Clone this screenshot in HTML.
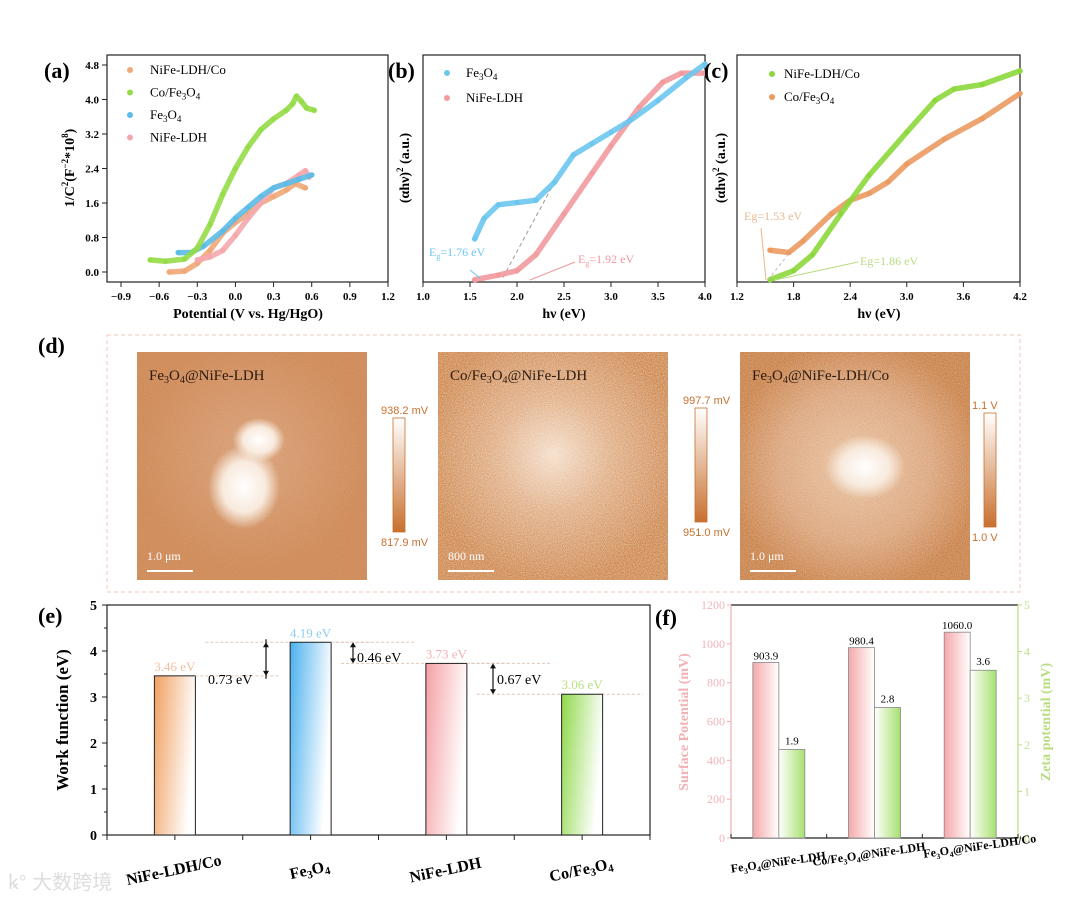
<!DOCTYPE html>
<html><head><meta charset="utf-8"><style>
html,body{margin:0;padding:0;background:#fff;}
svg{display:block;font-family:"Liberation Serif","Noto Serif CJK SC",serif;}
.b{font-weight:bold}
</style></head><body>
<svg id="fig" width="1080" height="899" viewBox="0 0 1080 899">
<defs>
<linearGradient id="gOr" x1="0" y1="0" x2="1" y2="0.3"><stop offset="0" stop-color="#f0a060"/><stop offset="1" stop-color="#fff"/></linearGradient>
<linearGradient id="gBl" x1="0" y1="0" x2="1" y2="0.3"><stop offset="0" stop-color="#4ab0ee"/><stop offset="1" stop-color="#fff"/></linearGradient>
<linearGradient id="gPk" x1="0" y1="0" x2="1" y2="0.3"><stop offset="0" stop-color="#f4a0a4"/><stop offset="1" stop-color="#fff"/></linearGradient>
<linearGradient id="gGr" x1="0" y1="0" x2="1" y2="0.3"><stop offset="0" stop-color="#8fd84a"/><stop offset="1" stop-color="#fff"/></linearGradient>
<linearGradient id="gPk2" x1="0" y1="0" x2="1" y2="0"><stop offset="0" stop-color="#f6a8aa"/><stop offset="1" stop-color="#fff"/></linearGradient>
<linearGradient id="gGr2" x1="0" y1="0" x2="1" y2="0"><stop offset="0" stop-color="#fff"/><stop offset="1" stop-color="#a8e070"/></linearGradient>
<linearGradient id="cbar" x1="0" y1="0" x2="0" y2="1"><stop offset="0" stop-color="#fff"/><stop offset="1" stop-color="#c8702e"/></linearGradient>
<radialGradient id="afm1" cx="0.5" cy="0.45" r="0.5"><stop offset="0" stop-color="#d9a27a"/><stop offset="1" stop-color="#cf8a58"/></radialGradient>
<radialGradient id="afm2" cx="0.5" cy="0.45" r="0.55"><stop offset="0" stop-color="#f4ddc8"/><stop offset="0.45" stop-color="#e0ae86"/><stop offset="1" stop-color="#cd874f"/></radialGradient>
<radialGradient id="afm3" cx="0.5" cy="0.5" r="0.55"><stop offset="0" stop-color="#e8c2a0"/><stop offset="0.6" stop-color="#dba57d"/><stop offset="1" stop-color="#c9824a"/></radialGradient>
<radialGradient id="blob" cx="0.5" cy="0.5" r="0.5"><stop offset="0" stop-color="#fff"/><stop offset="0.6" stop-color="#f8eadd"/><stop offset="1" stop-color="#f8eadd" stop-opacity="0"/></radialGradient>
<filter id="noise" x="0" y="0" width="100%" height="100%"><feTurbulence type="fractalNoise" baseFrequency="0.9" numOctaves="2" seed="3"/><feColorMatrix type="matrix" values="0 0 0 0 1  0 0 0 0 0.95  0 0 0 0 0.9  0 0 0 -1.6 1.1"/></filter>
</defs>
<g id="root"></g>
</svg>
<script>
// ---- Panel (a) data ----
const aSeriesNames = ["NiFe-LDH/Co","Co/Fe3O4","Fe3O4","NiFe-LDH"];
const aNiFeCo = [[-0.52,0],[-0.4,0.02],[-0.3,0.2],[-0.2,0.5],[-0.1,0.9],[0,1.15],[0.1,1.35],[0.2,1.6],[0.3,1.75],[0.4,1.9],[0.47,2.05],[0.55,1.95]];
const aCoFe = [[-0.67,0.28],[-0.55,0.25],[-0.4,0.3],[-0.3,0.55],[-0.2,1.1],[-0.1,1.8],[0,2.4],[0.1,2.9],[0.2,3.3],[0.3,3.55],[0.4,3.75],[0.45,3.9],[0.48,4.08],[0.52,3.95],[0.56,3.8],[0.62,3.75]];
const aFe = [[-0.45,0.45],[-0.35,0.45],[-0.25,0.6],[-0.1,0.95],[0,1.25],[0.1,1.5],[0.2,1.75],[0.3,1.95],[0.4,2.05],[0.5,2.15],[0.6,2.25]];
const aNiFe = [[-0.3,0.28],[-0.2,0.35],[-0.1,0.5],[0,0.85],[0.1,1.25],[0.2,1.6],[0.3,1.95],[0.4,2.05],[0.5,2.25],[0.55,2.35],[0.58,2.2]];
const aXTicks = [-0.9,-0.6,-0.3,0.0,0.3,0.6,0.9,1.2];
const aYTicks = [0.0,0.8,1.6,2.4,3.2,4.0,4.8];
// ---- Panel (b) data ----
const bFe = [[1.55,0.19],[1.65,0.28],[1.8,0.34],[2.0,0.35],[2.2,0.36],[2.4,0.44],[2.6,0.56],[2.8,0.61],[3.0,0.66],[3.2,0.71],[3.5,0.8],[3.8,0.9],[4.0,0.96]];
const bNiFe = [[1.55,0.01],[1.8,0.03],[2.0,0.05],[2.2,0.12],[2.5,0.3],[2.8,0.48],[3.0,0.6],[3.3,0.77],[3.55,0.88],[3.75,0.92],[4.0,0.92]];
const bXTicks = [1.0,1.5,2.0,2.5,3.0,3.5,4.0];
// ---- Panel (c) data ----
const cNiFeCo = [[1.55,0.01],[1.8,0.05],[2.0,0.12],[2.3,0.3],[2.6,0.47],[3.0,0.66],[3.3,0.8],[3.5,0.85],[3.8,0.87],[4.2,0.93]];
const cCoFe = [[1.55,0.14],[1.75,0.13],[1.9,0.18],[2.2,0.3],[2.4,0.36],[2.6,0.39],[2.8,0.44],[3.0,0.52],[3.4,0.63],[3.8,0.72],[4.2,0.83]];
const cXTicks = [1.2,1.8,2.4,3.0,3.6,4.2];
// ---- Panel (e) data ----
const eCats = ["NiFe-LDH/Co","Fe3O4","NiFe-LDH","Co/Fe3O4"];
const eValues = [3.46,4.19,3.73,3.06];
const eLabels = ["3.46 eV","4.19 eV","3.73 eV","3.06 eV"];
const eYTicks = [0,1,2,3,4,5];
// ---- Panel (f) data ----
const fCats = ["Fe3O4@NiFe-LDH","Co/Fe3O4@NiFe-LDH","Fe3O4@NiFe-LDH/Co"];
const fSurface = [903.9,980.4,1060.0];
const fZeta = [1.9,2.8,3.6];
const fLeftTicks = [0,200,400,600,800,1000,1200];
const fRightTicks = [0,1,2,3,4,5];

const NS="http://www.w3.org/2000/svg";
const root=document.getElementById('root');
function el(tag,attrs,parent,text){const e=document.createElementNS(NS,tag);for(const k in attrs)e.setAttribute(k,attrs[k]);if(text!==undefined)e.textContent=text;(parent||root).appendChild(e);return e;}
function lin(d0,d1,r0,r1){return v=>r0+(v-d0)/(d1-d0)*(r1-r0);}
function poly(pts,sx,sy,color,g,name){
  const p=el('polyline',{points:pts.map(q=>sx(q[0])+','+sy(q[1])).join(' '),fill:'none',stroke:color,'stroke-width':5.5,'stroke-linejoin':'round','stroke-linecap':'round','stroke-opacity':0.9},g);
  
  
  pts.forEach(q=>{const c=el('circle',{cx:sx(q[0]),cy:sy(q[1]),r:2.6,fill:color},g);
    
    });
}
function frame(g,x0,y0,x1,y1){el('rect',{x:x0,y:y0,width:x1-x0,height:y1-y0,fill:'none',stroke:'#222','stroke-width':1.2},g);}
function fe(t,pre,post,fs){el('tspan',{},t,pre+'Fe');el('tspan',{'font-size':fs,dy:3},t,'3');el('tspan',{dy:-3},t,'O');el('tspan',{'font-size':fs,dy:3},t,'4');if(post)el('tspan',{dy:-3},t,post);}

// ===== Panel (a) =====
(function(){
const g=el('g',{});  
const X0=107,X1=388,Y0=55,Y1=282;
const sx=lin(-0.9,1.2,121,388), sy=lin(0,4.8,272,65);
frame(g,X0,Y0,X1,Y1);
aXTicks.forEach(t=>{el('line',{x1:sx(t),x2:sx(t),y1:Y1,y2:Y1+5,stroke:'#222'},g);
 const tx=el('text',{x:sx(t),y:Y1+18,'font-size':11,'text-anchor':'middle',class:'b'},g,(t<0?'−':'')+Math.abs(t).toFixed(1));
 });
aYTicks.forEach(t=>{el('line',{x1:X0-5,x2:X0,y1:sy(t),y2:sy(t),stroke:'#222'},g);
 const tx=el('text',{x:X0-8,y:sy(t)+4,'font-size':11,'text-anchor':'end',class:'b'},g,t.toFixed(1));
 });
const xt=el('text',{x:248,y:318,'font-size':14,'text-anchor':'middle',class:'b'},g,'Potential (V vs. Hg/HgO)');

const yt=el('text',{'font-size':14,'text-anchor':'middle',class:'b',transform:'translate(74,168) rotate(-90)'},g);
el('tspan',{},yt,'1/C');el('tspan',{'font-size':9,dy:-6},yt,'2');el('tspan',{dy:6},yt,'(F');el('tspan',{'font-size':9,dy:-6},yt,'−2');el('tspan',{dy:6},yt,'*10');el('tspan',{'font-size':9,dy:-6},yt,'8');el('tspan',{dy:6},yt,')');

poly(aNiFeCo,sx,sy,'#f0a878',g,'a-series-nife-ldh-co');
poly(aNiFe,sx,sy,'#f4a8ae',g,'a-series-nife-ldh');
poly(aFe,sx,sy,'#5cbce8',g,'a-series-fe3o4');
poly(aCoFe,sx,sy,'#96dc48',g,'a-series-co-fe3o4');
const leg=[['NiFe-LDH/Co','#f0a878'],['Co/Fe3O4','#96dc48'],['Fe3O4','#5cbce8'],['NiFe-LDH','#f4a8ae']];
leg.forEach((L,i)=>{const y=74+i*22.5;const lg=el('g',{},g);
 el('circle',{cx:130,cy:y-4,r:3,fill:L[1]},lg);
 const t=el('text',{x:150,y:y,'font-size':13},lg);
 if(L[0].includes('Fe3O4')){fe(t,L[0].replace('Fe3O4',''),'',9);}
 else t.textContent=L[0];});
const lab=el('text',{x:44,y:78,'font-size':22,class:'b'},g,'(a)');
})();

// ===== Panel (b) =====
(function(){
const g=el('g',{});  
const X0=423,X1=705,Y0=55,Y1=282;
const sx=lin(1.0,4.0,X0,X1), sy=lin(0,1,282,55);
frame(g,X0,Y0,X1,Y1);
bXTicks.forEach(t=>{el('line',{x1:sx(t),x2:sx(t),y1:Y1,y2:Y1+5,stroke:'#222'},g);
 const tx=el('text',{x:sx(t),y:Y1+18,'font-size':11,'text-anchor':'middle',class:'b'},g,t.toFixed(1));
 });
const xt=el('text',{x:564,y:318,'font-size':14,'text-anchor':'middle',class:'b'},g,'hν (eV)');

const yt=el('text',{'font-size':14,'text-anchor':'middle',class:'b',transform:'translate(409,168) rotate(-90)'},g);
el('tspan',{},yt,'(αhν)');el('tspan',{'font-size':9,dy:-6},yt,'2');el('tspan',{dy:6},yt,' (a.u.)');

el('line',{x1:sx(1.85),y1:sy(0.02),x2:sx(2.4),y2:sy(0.44),stroke:'#999','stroke-dasharray':'4,3'},g);
poly(bNiFe,sx,sy,'#f29a9e',g,'b-series-nife-ldh');
poly(bFe,sx,sy,'#6cc6ee',g,'b-series-fe3o4');
[['Fe3O4','#6cc6ee',77],['NiFe-LDH','#f29a9e',102]].forEach(L=>{const lg=el('g',{},g);
 el('circle',{cx:447,cy:L[2]-4,r:3,fill:L[1]},lg);
 const t=el('text',{x:466,y:L[2],'font-size':13},lg);
 if(L[0]==='Fe3O4'){fe(t,'','',9);}else t.textContent=L[0];});
const e1=el('text',{x:429,y:256,'font-size':12,fill:'#6cc6ee'},g);el('tspan',{},e1,'E');el('tspan',{'font-size':8,dy:3},e1,'g');el('tspan',{dy:-3},e1,'=1.76 eV');

const e2=el('text',{x:578,y:263,'font-size':12,fill:'#f29a9e'},g);el('tspan',{},e2,'E');el('tspan',{'font-size':8,dy:3},e2,'g');el('tspan',{dy:-3},e2,'=1.92 eV');

el('line',{x1:530,y1:280,x2:575,y2:262,stroke:'#f29a9e'},g);
el('line',{x1:470,y1:270,x2:480,y2:278,stroke:'#6cc6ee'},g);
const lab=el('text',{x:388,y:78,'font-size':22,class:'b'},g,'(b)');
})();

// ===== Panel (c) =====
(function(){
const g=el('g',{});  
const X0=737,X1=1020,Y0=55,Y1=282;
const sx=lin(1.2,4.2,X0,X1), sy=lin(0,1,282,55);
frame(g,X0,Y0,X1,Y1);
cXTicks.forEach(t=>{el('line',{x1:sx(t),x2:sx(t),y1:Y1,y2:Y1+5,stroke:'#222'},g);
 const tx=el('text',{x:sx(t),y:Y1+18,'font-size':11,'text-anchor':'middle',class:'b'},g,t.toFixed(1));
 });
const xt=el('text',{x:879,y:318,'font-size':14,'text-anchor':'middle',class:'b'},g,'hν (eV)');

const yt=el('text',{'font-size':14,'text-anchor':'middle',class:'b',transform:'translate(725,168) rotate(-90)'},g);
el('tspan',{},yt,'(αhν)');el('tspan',{'font-size':9,dy:-6},yt,'2');el('tspan',{dy:6},yt,' (a.u.)');

poly(cCoFe,sx,sy,'#eb9a60',g,'c-series-co-fe3o4');
poly(cNiFeCo,sx,sy,'#8cd83c',g,'c-series-nife-ldh-co');
[['NiFe-LDH/Co','#8cd83c',78],['Co/Fe3O4','#eb9a60',101]].forEach(L=>{const lg=el('g',{},g);
 el('circle',{cx:772,cy:L[2]-4,r:3,fill:L[1]},lg);
 const t=el('text',{x:784,y:L[2],'font-size':13},lg);
 if(L[0]==='Co/Fe3O4'){fe(t,'Co/','',9);}else t.textContent=L[0];});
const e1=el('text',{x:744,y:220,'font-size':12,fill:'#e8b890'},g,'Eg=1.53 eV');
const e2=el('text',{x:860,y:265,'font-size':12,fill:'#b8dc80'},g,'Eg=1.86 eV');
el('line',{x1:761,y1:228,x2:766,y2:280,stroke:'#e8b890'},g);
el('line',{x1:775,y1:280,x2:858,y2:262,stroke:'#b8dc80'},g);
el('line',{x1:768,y1:280,x2:790,y2:252,stroke:'#bbb','stroke-dasharray':'3,3'},g);
const lab=el('text',{x:704,y:78,'font-size':22,class:'b'},g,'(c)');
})();

// ===== Panel (d) =====
(function(){
const g=el('g',{});  
el('rect',{x:107,y:335,width:913,height:257,fill:'none',stroke:'#f0c8b8','stroke-dasharray':'4,3'},g);
const lab=el('text',{x:38,y:353,'font-size':22,class:'b'},g,'(d)');
const imgs=[{x:137,fill:'url(#afm1)',pre:'',post:'@NiFe-LDH',sc:'1.0 μm',cb:393,cbt:'938.2 mV',cbb:'817.9 mV',cby:418,name:'afm-fe3o4-nife-ldh',nz:0.15},
 {x:438,fill:'url(#afm2)',pre:'Co/',post:'@NiFe-LDH',sc:'800 nm',cb:695,cbt:'997.7 mV',cbb:'951.0 mV',cby:408,name:'afm-co-fe3o4-nife-ldh',nz:0.55},
 {x:740,fill:'url(#afm3)',pre:'',post:'@NiFe-LDH/Co',sc:'1.0 μm',cb:984,cbt:'1.1 V',cbb:'1.0 V',cby:413,name:'afm-fe3o4-nife-ldh-co',nz:0.35}];
imgs.forEach((m,i)=>{const ig=el('g',{},g);
 el('rect',{x:m.x,y:352,width:230,height:228,fill:m.fill},ig);
 el('rect',{x:m.x,y:352,width:230,height:228,filter:'url(#noise)',opacity:m.nz},ig);
 if(i===0){el('ellipse',{cx:m.x+122,cy:352+88,rx:26,ry:22,fill:'url(#blob)'},ig);el('ellipse',{cx:m.x+107,cy:352+135,rx:36,ry:42,fill:'url(#blob)'},ig);}
 if(i===2){el('ellipse',{cx:m.x+125,cy:352+115,rx:40,ry:32,fill:'url(#blob)'},ig);}
 const t=el('text',{x:m.x+12,y:380,'font-size':15,fill:'#2a1a10'},ig);
 fe(t,m.pre,m.post,10);
 el('text',{x:m.x+10,y:560,'font-size':12,fill:'#fff'},ig,m.sc);
 el('line',{x1:m.x+10,x2:m.x+56,y1:571,y2:571,stroke:'#fff','stroke-width':2},ig);
 const cg=el('g',{},g);
 el('rect',{x:m.cb,y:m.cby,width:12,height:114,fill:'url(#cbar)',stroke:'#c8702e','stroke-width':0.8},cg);
 el('text',{x:m.cb-12,y:m.cby-4,'font-size':11,fill:'#c8702e',"font-family":"Liberation Sans, sans-serif"},cg,m.cbt);
 el('text',{x:m.cb-12,y:m.cby+128,'font-size':11,fill:'#c8702e',"font-family":"Liberation Sans, sans-serif"},cg,m.cbb);
});
})();

// ===== Panel (e) =====
(function(){
const g=el('g',{});  
const X0=107,X1=650,Y0=605,Y1=835;
const sy=lin(0,5,Y1,Y0); const band=(X1-X0)/4; const cx=i=>X0+band*(i+0.5);const bw=41;
frame(g,X0,Y0,X1,Y1);
eYTicks.forEach(t=>{el('line',{x1:X0-5,x2:X0,y1:sy(t),y2:sy(t),stroke:'#222'},g);
 const tx=el('text',{x:X0-10,y:sy(t)+5,'font-size':14,'text-anchor':'end',class:'b'},g,String(t));
 
 if(t<5)el('line',{x1:X0-3,x2:X0,y1:sy(t+0.5),y2:sy(t+0.5),stroke:'#222'},g);});
for(let i=0;i<=4;i++){el('line',{x1:X0+band*i,x2:X0+band*i,y1:Y1,y2:Y1+5,stroke:'#222'},g);}
const fills=['url(#gOr)','url(#gBl)','url(#gPk)','url(#gGr)'];const lc=['#f0c0a0','#8ccff0','#f4b0b4','#b8e080'];
eValues.forEach((v,i)=>{el('line',{x1:cx(i),x2:cx(i),y1:Y1,y2:Y1+5,stroke:'#222'},g);
 const r=el('rect',{x:cx(i)-bw/2,y:sy(v),width:bw,height:Y1-sy(v),fill:fills[i],stroke:'#222','stroke-width':1},g);
 
 
 const l=el('text',{x:cx(i),y:sy(v)-5,'font-size':13,'text-anchor':'middle',fill:lc[i]},g,eLabels[i]);
 
 if(i<3){const nx=cx(i+1);el('line',{x1:cx(i)+bw/2,x2:nx-bw/2-10,y1:sy(v),y2:sy(v),stroke:'#e0c8b8','stroke-dasharray':'3,2'},g);
  el('line',{x1:cx(i)+bw/2+10,x2:nx+bw/2+40,y1:sy(eValues[i+1]),y2:sy(eValues[i+1]),stroke:'#e0c8b8','stroke-dasharray':'3,2'},g);
  const ax=[266,353,493][i];const y1=sy(v),y2=sy(eValues[i+1]);
  el('line',{x1:ax,x2:ax,y1:y1+3,y2:y2-3,stroke:'#111','stroke-width':1.2},g);
  const up=y2<y1;
  el('path',{d:`M${ax-3},${y1+(up?-5:5)}L${ax},${y1}L${ax+3},${y1+(up?-5:5)}Z`,fill:'#111'},g);
  el('path',{d:`M${ax-3},${y2+(up?5:-5)}L${ax},${y2}L${ax+3},${y2+(up?5:-5)}Z`,fill:'#111'},g);
  const d=Math.abs(v-eValues[i+1]).toFixed(2)+' eV';
  const dt=el('text',{x:[208,357,497][i],y:[684,662,684][i],'font-size':14},g,d);
  }
});
eCats.forEach((c,i)=>{const t=el('text',{'font-size':16,class:'b','text-anchor':'middle',transform:`translate(${cx(i)},${875}) rotate(-12)`},g);
 if(c.includes('Fe3O4')){fe(t,c.replace('Fe3O4',''),'',11);}else t.textContent=c;
 });
const yt=el('text',{'font-size':17,class:'b','text-anchor':'middle',transform:'translate(68,720) rotate(-90)'},g,'Work function (eV)');

const lab=el('text',{x:38,y:623,'font-size':22,class:'b'},g,'(e)');
const wm=el('text',{x:8,y:889,'font-size':20,fill:'#ddd',"font-family":"Liberation Sans, Noto Sans CJK SC, sans-serif"},g,'ꝃ° 大数跨境');

})();

// ===== Panel (f) =====
(function(){
const g=el('g',{});  
const X0=731,X1=1018,Y0=605,Y1=838;
const syL=lin(0,1200,Y1,Y0), syR=lin(0,5,Y1,Y0);
const band=(X1-X0)/3; const cx=i=>X0+band*(i+0.5); const bw=26;
el('line',{x1:X0,y1:Y0,x2:X1,y2:Y0,stroke:'#222','stroke-width':1.2},g);
el('line',{x1:X0,y1:Y1,x2:X1,y2:Y1,stroke:'#222','stroke-width':1.2},g);
el('line',{x1:X0,y1:Y0,x2:X0,y2:Y1,stroke:'#f4b0b4','stroke-width':1.2},g);
el('line',{x1:X1,y1:Y0,x2:X1,y2:Y1,stroke:'#b8e080','stroke-width':1.2},g);
fLeftTicks.forEach(t=>{el('line',{x1:X0-4,x2:X0,y1:syL(t),y2:syL(t),stroke:'#f4b0b4'},g);
 const tx=el('text',{x:X0-6,y:syL(t)+4,'font-size':12,'text-anchor':'end',fill:'#f0b4b8'},g,String(t));
 });
fRightTicks.forEach(t=>{el('line',{x1:X1,x2:X1+4,y1:syR(t),y2:syR(t),stroke:'#b8e080'},g);
 const tx=el('text',{x:X1+6,y:syR(t)+4,'font-size':12,fill:'#c0e090'},g,String(t));
 });
for(let i=0;i<=3;i++)el('line',{x1:X0+band*i,x2:X0+band*i,y1:Y1-4,y2:Y1,stroke:'#222'},g);
fCats.forEach((c,i)=>{el('line',{x1:cx(i),x2:cx(i),y1:Y1-4,y2:Y1,stroke:'#222'},g);
 const v=fSurface[i],z=fZeta[i];
 const r1=el('rect',{x:cx(i)-bw,y:syL(v),width:bw,height:Y1-syL(v),fill:'url(#gPk2)',stroke:'#888','stroke-width':0.8},g);
 
 const r2=el('rect',{x:cx(i),y:syR(z),width:bw,height:Y1-syR(z),fill:'url(#gGr2)',stroke:'#888','stroke-width':0.8},g);
 
 const l1=el('text',{x:cx(i)-bw/2,y:syL(v)-3,'font-size':11,'text-anchor':'middle'},g,v.toFixed(1));
 
 const l2=el('text',{x:cx(i)+bw/2,y:syR(z)-5,'font-size':11,'text-anchor':'middle'},g,z.toFixed(1));
 
 const t=el('text',{'font-size':12,class:'b','text-anchor':'middle',transform:`translate(${cx(i)+[0,-5,10][i]},${[866,858,850][i]}) rotate(-8)`},g);
 const parts=c.split('Fe3O4');fe(t,parts[0],parts[1],8);
 });
const yl=el('text',{'font-size':14,class:'b','text-anchor':'middle',fill:'#f0b0b4',transform:'translate(688,722) rotate(-90)'},g,'Surface Potential (mV)');

const yr=el('text',{'font-size':14,class:'b','text-anchor':'middle',fill:'#b8dc80',transform:'translate(1050,722) rotate(-90)'},g,'Zeta potential (mV)');

const lab=el('text',{x:655,y:625,'font-size':22,class:'b'},g,'(f)');
})();
</script>
</body></html>
